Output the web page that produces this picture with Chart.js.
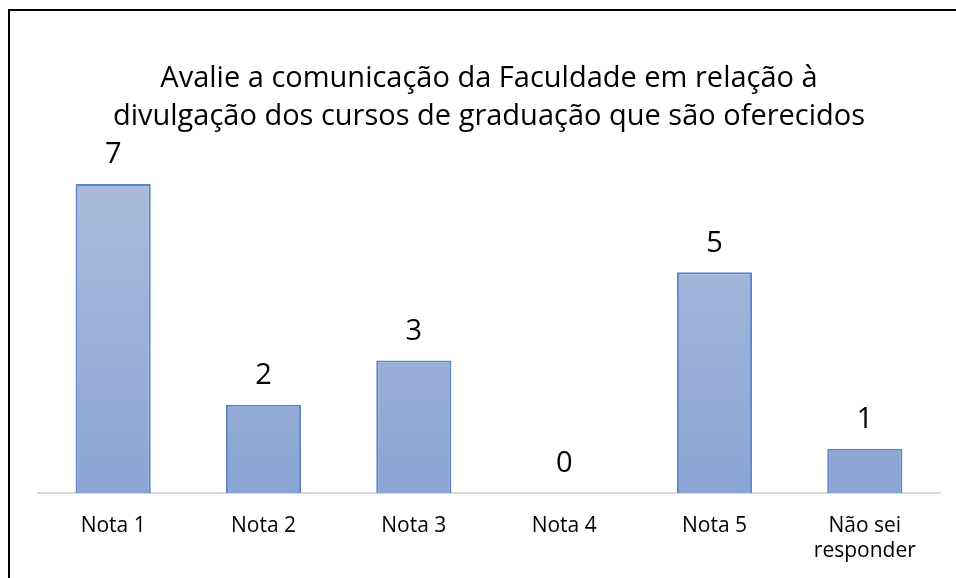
<!DOCTYPE html>
<html>
<head>
<meta charset="utf-8">
<script src="https://cdn.jsdelivr.net/npm/chart.js@4"></script>
<style>
body{margin:0;background:#fff;}
#moldura{position:absolute;left:8px;top:9px;width:1000px;height:700px;border-top:2px solid #000;border-left:2px solid #000;}
#grafico{position:absolute;left:0;top:0;}
</style>
</head>
<body>
<div id="moldura"></div>
<canvas id="grafico" width="956" height="578"></canvas>
<script>

const categorias = ["Nota 1", "Nota 2", "Nota 3", "Nota 4", "Nota 5", ["Não sei", "responder"]];

const respostas = [7, 2, 3, 0, 5, 1];

const titulo = [
    "Avalie a comunicação da Faculdade em relação à",
    "divulgação dos cursos de graduação que são oferecidos"
];

const fonte = "'Open Sans', sans-serif";

function degrade(context){

    const area = context.chart.chartArea;

    if(!area){
        return "#9fb4da";
    }

    const g = context.chart.ctx.createLinearGradient(0, area.top, 0, area.bottom);
    g.addColorStop(0, "#aebfdd");
    g.addColorStop(1, "#8aa5d4");
    return g;

}

const rotulos = {

    id:"rotulos",

    afterDatasetsDraw(chart){

        const ctx = chart.ctx;
        const meta = chart.getDatasetMeta(0);

        ctx.save();
        ctx.fillStyle = "#000";
        ctx.font = "29px " + fonte;
        ctx.textAlign = "center";
        ctx.textBaseline = "middle";

        meta.data.forEach((barra, i) => {
            ctx.fillText(String(respostas[i]), barra.x, barra.y - 29);
        });

        ctx.restore();

    }

};

new Chart(

    document.getElementById("grafico"),

    {

        type:"bar",

        data:{

            labels:categorias,

            datasets:[{

                label:"Respostas",

                data:respostas,

                backgroundColor:degrade,

                borderColor:"#5a86c3",

                borderWidth:2,

                borderSkipped:"bottom",

                categoryPercentage:1,

                barPercentage:0.5

            }]

        },

        options:{

            responsive:false,

            animation:false,

            layout:{
                padding:{left:38, right:16, top:60, bottom:0}
            },

            plugins:{

                legend:{display:false},

                tooltip:{enabled:false},

                title:{
                    display:true,
                    text:titulo,
                    color:"#000",
                    font:{family:fonte, size:29, weight:"normal", lineHeight:1.31},
                    padding:{top:0, bottom:4}
                }

            },

            scales:{

                x:{
                    grid:{display:false, drawTicks:false},
                    border:{color:"#d9d9d9", width:2},
                    ticks:{
                        color:"#000",
                        font:{family:fonte, size:21, lineHeight:1.2},
                        padding:20
                    },
                    afterFit(scale){
                        scale.height = 85;
                    }
                },

                y:{
                    display:false,
                    min:0,
                    max:8
                }

            }

        },

        plugins:[rotulos]

    }

);

</script>
</body>
</html>
